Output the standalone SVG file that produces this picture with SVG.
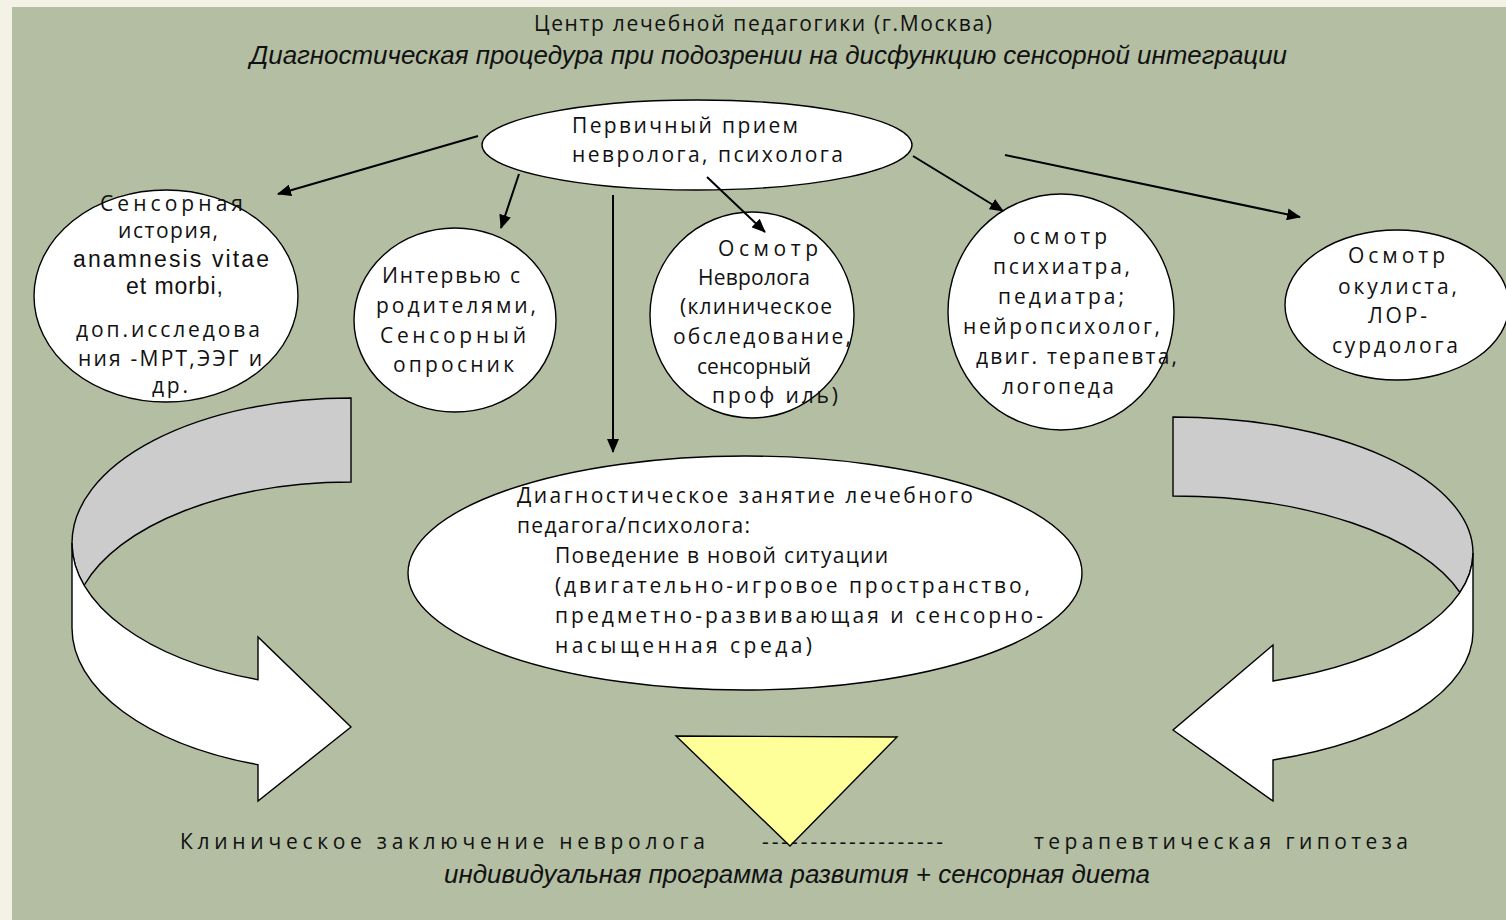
<svg xmlns="http://www.w3.org/2000/svg" width="1506" height="920" viewBox="0 0 1506 920">
<defs>
<style>
.node{fill:#ffffff;stroke:#000;stroke-width:1.4}
.t{font-family:"Open Sans","Liberation Sans",sans-serif;font-size:21px;fill:#111}
.it{font-family:"Liberation Sans","DejaVu Sans",sans-serif;font-style:italic;font-size:25px;fill:#111}
.lat{font-family:"Liberation Sans","DejaVu Sans",sans-serif;font-size:23px;fill:#111}
.conn{stroke:#000;stroke-width:2;fill:none}
.back{fill:#cccccc;stroke:#000;stroke-width:1.4}
.front{fill:#ffffff;stroke:#000;stroke-width:1.4;stroke-linejoin:miter}
</style>
<marker id="ah" markerWidth="14" markerHeight="12" refX="13" refY="6" orient="auto" markerUnits="userSpaceOnUse">
<path d="M0,0 L14,6 L0,12 Z" fill="#000"/>
</marker>
</defs>
<rect x="0" y="0" width="1506" height="920" fill="#f4f2e6"/>
<rect x="12" y="7" width="1494" height="913" fill="#b3bea3"/>

<g id="title">
<text class="t" x="534" y="31" font-size="18" textLength="458" lengthAdjust="spacing">Центр лечебной педагогики (г.Москва)</text>
<text class="it" x="250" y="64" textLength="1037" lengthAdjust="spacingAndGlyphs">Диагностическая процедура при подозрении на дисфункцию сенсорной интеграции</text>
</g>

<g id="curved-arrow-left">
<path class="back" d="M351,398 A279,145 0 0 0 72,543 A279,145 0 0 0 84,585.5 A279,145 0 0 1 351,482 Z"/>
<path class="front" d="M72,543 A279,145 0 0 0 258,679.7 L258,637 L351,727 L258,801 L258,764.7 A279,145 0 0 1 72,628 Z"/>
</g>
<g id="curved-arrow-right">
<path class="back" d="M1173,417 A300,136 0 0 1 1473,553 A300,136 0 0 1 1460,592.5 A300,136 0 0 0 1173,496 Z"/>
<path class="front" d="M1473,553 A300,136 0 0 1 1273,681 L1273,645 L1173,730 L1273,801 L1273,760 A300,136 0 0 0 1473,632 Z"/>
</g>

<g id="node-primary">
<ellipse class="node" cx="697" cy="145" rx="215" ry="45"/>
<text class="t" x="572" y="133" textLength="226" lengthAdjust="spacing">Первичный прием</text>
<text class="t" x="572" y="162" textLength="271" lengthAdjust="spacing">невролога, психолога</text>
</g>

<g id="node-history">
<ellipse class="node" cx="166" cy="296" rx="132" ry="106"/>
<text class="t" x="100" y="211" textLength="143" lengthAdjust="spacing">Сенсорная</text>
<text class="t" x="118" y="238" textLength="100" lengthAdjust="spacing">история,</text>
<text class="lat" x="73" y="267" textLength="196" lengthAdjust="spacing">anamnesis vitae</text>
<text class="lat" x="126" y="294" textLength="97" lengthAdjust="spacing">et morbi,</text>
<text class="t" x="76" y="337" textLength="184" lengthAdjust="spacing">доп.исследова</text>
<text class="t" x="78" y="366" textLength="184" lengthAdjust="spacing">ния -МРТ,ЭЭГ и</text>
<text class="t" x="152" y="393" textLength="36" lengthAdjust="spacing">др.</text>
</g>

<g id="node-interview">
<ellipse class="node" cx="455" cy="320" rx="101" ry="92"/>
<text class="t" x="382" y="283" textLength="138" lengthAdjust="spacing">Интервью с</text>
<text class="t" x="376" y="313" textLength="160" lengthAdjust="spacing">родителями,</text>
<text class="t" x="380" y="343" textLength="146" lengthAdjust="spacing">Сенсорный</text>
<text class="t" x="393" y="372" textLength="121" lengthAdjust="spacing">опросник</text>
</g>

<g id="node-neuro">
<ellipse class="node" cx="752" cy="315" rx="102" ry="103"/>
<text class="t" x="718" y="256" textLength="100" lengthAdjust="spacing">Осмотр</text>
<text class="t" x="698" y="285" textLength="112" lengthAdjust="spacing">Невролога</text>
<text class="t" x="680" y="314" textLength="152" lengthAdjust="spacing">(клиническое</text>
<text class="t" x="673" y="344" textLength="178" lengthAdjust="spacing">обследование,</text>
<text class="t" x="697" y="374" textLength="114" lengthAdjust="spacing">сенсорный</text>
<text class="t" x="712" y="403" textLength="126" lengthAdjust="spacing">проф иль)</text>
</g>

<g id="node-psych">
<ellipse class="node" cx="1061" cy="312" rx="113" ry="118"/>
<text class="t" x="1013" y="244" textLength="94" lengthAdjust="spacing">осмотр</text>
<text class="t" x="993" y="274" textLength="137" lengthAdjust="spacing">психиатра,</text>
<text class="t" x="998" y="304" textLength="126" lengthAdjust="spacing">педиатра;</text>
<text class="t" x="963" y="334" textLength="197" lengthAdjust="spacing">нейропсихолог,</text>
<text class="t" x="976" y="364" textLength="201" lengthAdjust="spacing">двиг. терапевта,</text>
<text class="t" x="1002" y="394" textLength="112" lengthAdjust="spacing">логопеда</text>
</g>

<g id="node-oculist">
<ellipse class="node" cx="1397" cy="305" rx="112" ry="75"/>
<text class="t" x="1348" y="263" textLength="97" lengthAdjust="spacing">Осмотр</text>
<text class="t" x="1338" y="294" textLength="119" lengthAdjust="spacing">окулиста,</text>
<text class="t" x="1368" y="323" textLength="59" lengthAdjust="spacing">ЛОР-</text>
<text class="t" x="1332" y="353" textLength="126" lengthAdjust="spacing">сурдолога</text>
</g>

<g id="node-session">
<ellipse class="node" cx="745" cy="573" rx="337" ry="117"/>
<text class="t" x="517" y="503" textLength="456" lengthAdjust="spacing">Диагностическое занятие лечебного</text>
<text class="t" x="517" y="533" textLength="233" lengthAdjust="spacing">педагога/психолога:</text>
<text class="t" x="555" y="563" textLength="333" lengthAdjust="spacing">Поведение в новой ситуации</text>
<text class="t" x="555" y="593" textLength="475" lengthAdjust="spacing">(двигательно-игровое пространство,</text>
<text class="t" x="555" y="623" textLength="488" lengthAdjust="spacing">предметно-развивающая и сенсорно-</text>
<text class="t" x="555" y="653" textLength="257" lengthAdjust="spacing">насыщенная среда)</text>
</g>

<g id="node-triangle">
<path d="M676,736 L897,737 L790,846 Z" fill="#ffff99" stroke="#000" stroke-width="1.4"/>
</g>

<g id="connectors">
<line class="conn" x1="478" y1="136" x2="278" y2="194" marker-end="url(#ah)"/>
<line class="conn" x1="519" y1="174" x2="501" y2="228" marker-end="url(#ah)"/>
<line class="conn" x1="613" y1="195" x2="613" y2="452" marker-end="url(#ah)"/>
<line class="conn" x1="707" y1="177" x2="765" y2="232" marker-end="url(#ah)"/>
<line class="conn" x1="913" y1="156" x2="1003" y2="211" marker-end="url(#ah)"/>
<line class="conn" x1="1005" y1="155" x2="1300" y2="217" marker-end="url(#ah)"/>
</g>

<g id="conclusion">
<text class="t" x="180" y="849" font-size="22" textLength="525" lengthAdjust="spacing">Клиническое заключение невролога</text>
<text class="t" x="762" y="849" font-size="22" textLength="181" lengthAdjust="spacing">-------------------</text>
<text class="t" x="1034" y="849" font-size="22" textLength="374" lengthAdjust="spacing">терапевтическая гипотеза</text>
<text class="it" x="444" y="883" textLength="706" lengthAdjust="spacingAndGlyphs">индивидуальная программа развития  + сенсорная диета</text>
</g>
</svg>
